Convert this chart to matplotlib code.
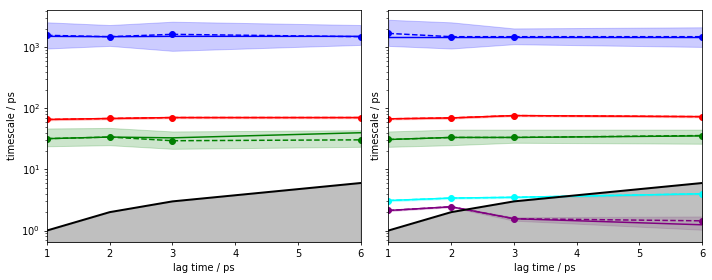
import matplotlib
matplotlib.use("Agg")
import matplotlib.pyplot as plt
import numpy as np

lags = np.array([1, 2, 3, 6])
colors = ['blue', 'red', 'green', 'cyan', 'purple']

# left panel: (ML estimate, sample mean, lower conf, upper conf) per process
left_ml = [
    [1520, 1500, 1520, 1520],
    [66, 68.5, 71, 71],
    [32, 34, 33, 40],
]
left_mean = [
    [1580, 1500, 1640, 1500],
    [66, 68.5, 71, 71],
    [32, 34, 29.6, 30.6],
]
left_lo = [
    [960, 1060, 880, 1100],
    [64, 66.5, 69, 69],
    [24, 25, 21.8, 23.5],
]
left_hi = [
    [2580, 2330, 2640, 2330],
    [68, 70.5, 73, 73],
    [47, 48, 42, 44],
]

# right panel
right_ml = [
    [1500, 1500, 1500, 1500],
    [67.7, 70, 76.5, 73.5],
    [31, 33.5, 33.5, 35.5],
    [3.1, 3.4, 3.5, 4.0],
    [2.13, 2.45, 1.56, 1.24],
]
right_mean = [
    [1700, 1500, 1500, 1500],
    [67.7, 70, 76.5, 73.5],
    [31, 33.5, 33.5, 36],
    [3.1, 3.4, 3.5, 4.0],
    [2.13, 2.45, 1.56, 1.44],
]
right_lo = [
    [1060, 960, 1130, 1020],
    [66, 68, 74.5, 71.5],
    [23.5, 25, 27.4, 26.4],
    [3.0, 3.3, 3.4, 3.9],
    [2.08, 2.4, 1.45, 1.03],
]
right_hi = [
    [2840, 2580, 2050, 2140],
    [69.5, 72, 78.5, 75.5],
    [42, 45, 45, 45],
    [3.2, 3.5, 3.6, 4.1],
    [2.18, 2.5, 1.65, 1.7],
]

ylim = (0.65, 4100)

fig, axes = plt.subplots(1, 2, figsize=(10, 3.933), dpi=71.2, sharey=True)
fig.subplots_adjust(left=0.066, right=0.986, top=0.964, bottom=0.136, wspace=0.089)

panels = [
    (left_ml, left_mean, left_lo, left_hi),
    (right_ml, right_mean, right_lo, right_hi),
]

for ax, (ml, mean, lo, hi) in zip(axes, panels):
    ax.set_yscale('log')
    for i in range(len(ml)):
        c = colors[i]
        ax.fill_between(lags, lo[i], hi[i], color=c, alpha=0.2)
        ax.plot(lags, mean[i], marker='o', color=c, linestyle='dashed', lw=1.5)
        ax.plot(lags, ml[i], color=c, lw=1.5)
    ax.plot(lags, lags, color='black', lw=2)
    ax.fill_between(lags, ylim[0] * np.ones(len(lags)), lags, color='grey', alpha=0.5)
    ax.set_xlim(1, 6)
    ax.set_ylim(*ylim)
    ax.set_xlabel('lag time / ps')
    ax.set_ylabel('timescale / ps')

fig.savefig('out.png')
